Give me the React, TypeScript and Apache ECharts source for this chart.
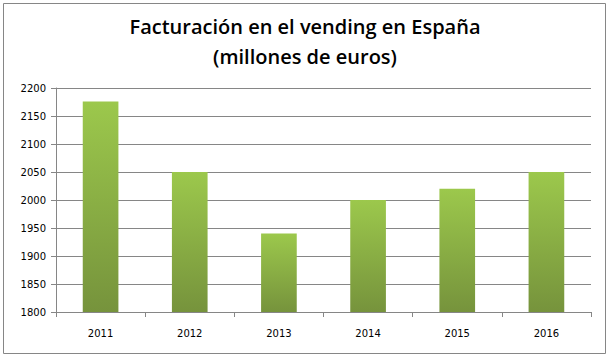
import React, { useEffect, useRef } from "react";
import * as echarts from "echarts";

const categories = ["2011", "2012", "2013", "2014", "2015", "2016"];
const values = [2176, 2050, 1940, 2000, 2020, 2050];
const titleLines = ["Facturación en el vending en España", "(millones de euros)"];

export default function App() {
  const ref = useRef<HTMLDivElement>(null);
  useEffect(() => {
    document.body.style.margin = "0";
    const chart = echarts.init(ref.current!, null, { renderer: "svg" });
    chart.setOption({
      animation: false,
      backgroundColor: "#ffffff",
      title: {
        text: titleLines.join("\n"),
        left: "center",
        top: 6,
        textStyle: {
          fontFamily: "Open Sans",
          fontSize: 20,
          fontWeight: 600,
          color: "#000",
          lineHeight: 30,
        },
      },
      graphic: [
        {
          type: "rect",
          shape: { x: 3.5, y: 3.5, width: 602, height: 350 },
          style: { fill: "none", stroke: "#868686", lineWidth: 1 },
          silent: true,
        },
      ],
      grid: { left: 56, right: 19, top: 88, bottom: 47 },
      xAxis: {
        type: "category",
        data: categories,
        axisLine: { lineStyle: { color: "#868686" } },
        axisTick: { show: true, length: 5, lineStyle: { color: "#868686" } },
        axisLabel: { fontFamily: "DejaVu Sans", fontSize: 10, color: "#000", margin: 16 },
      },
      yAxis: {
        type: "value",
        min: 1800,
        max: 2200,
        interval: 50,
        axisLine: { show: true, lineStyle: { color: "#868686" } },
        axisTick: { show: true, length: 5, lineStyle: { color: "#868686" } },
        splitLine: { lineStyle: { color: "#868686" } },
        axisLabel: {
          fontFamily: "DejaVu Sans",
          fontSize: 10,
          color: "#000",
          margin: 10,
          formatter: (v: number) => String(v),
        },
      },
      series: [
        {
          type: "bar",
          data: values,
          barWidth: "40%",
          itemStyle: {
            color: new echarts.graphic.LinearGradient(0, 0, 0, 1, [
              { offset: 0, color: "#9cc84c" },
              { offset: 1, color: "#76933c" },
            ]),
          },
        },
      ],
    });
    return () => chart.dispose();
  }, []);
  return <div ref={ref} style={{ position: "absolute", left: 0, top: 0, width: 610, height: 359 }} />;
}
